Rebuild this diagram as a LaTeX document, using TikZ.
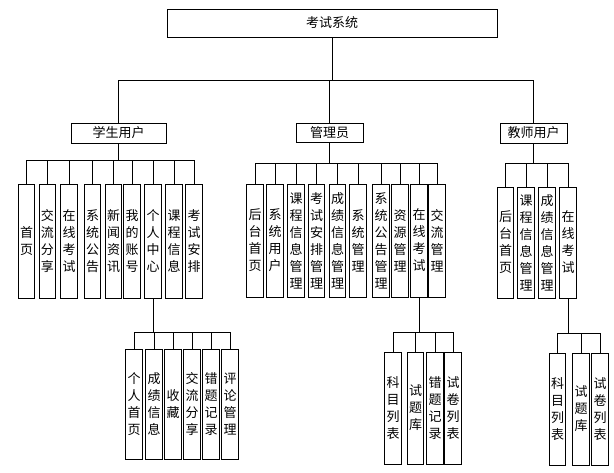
\documentclass[tikz,border=0pt]{standalone}
\usepackage{fontspec}
\setmainfont{Noto Sans CJK SC}
\begin{document}
\begin{tikzpicture}[x=1pt,y=-1pt]
\tikzset{
  box/.style={draw, line width=0.9pt, inner sep=0pt, font=\fontsize{13}{17}\selectfont},
  vb/.style={box, align=center, minimum width=16.5pt},
  ln/.style={line width=0.9pt},
}
\useasboundingbox[fill=white] (0,0) rectangle (614,473);
% top levels
\node[box, minimum width=330pt, minimum height=28pt] (top) at (332,23) {考试系统};
\node[box, minimum width=95pt, minimum height=20pt] (stu) at (118.5,133) {学生用户};
\node[box, minimum width=67pt, minimum height=19pt] (adm) at (329.5,132.5) {管理员};
\node[box, minimum width=67pt, minimum height=20pt] (tea) at (533.5,133) {教师用户};
% student children
\tikzset{sv/.style={vb, minimum height=114pt}}
\node[sv] (s1) at (26.5,241) {首\\页};
\node[sv] (s2) at (47.5,241) {交\\流\\分\\享};
\node[sv] (s3) at (69,241) {在\\线\\考\\试};
\node[sv] (s4) at (92.5,241) {系\\统\\公\\告};
\node[sv] (s5) at (113.5,241) {新\\闻\\资\\讯};
\node[sv] (s6) at (132,241) {我\\的\\账\\号};
\node[sv] (s7) at (153,241) {个\\人\\中\\心};
\node[sv] (s8) at (174,241) {课\\程\\信\\息};
\node[sv] (s9) at (194,241) {考\\试\\安\\排};
% admin children
\tikzset{av/.style={vb, minimum height=113pt}}
\node[av] (a1) at (255,240.5) {后\\台\\首\\页};
\node[av] (a2) at (275,240.5) {系\\统\\用\\户};
\node[av] (a3) at (296,240.5) {课\\程\\信\\息\\管\\理};
\node[av] (a4) at (316.5,240.5) {考\\试\\安\\排\\管\\理};
\node[av] (a5) at (337.5,240.5) {成\\绩\\信\\息\\管\\理};
\node[av] (a6) at (358,240.5) {系\\统\\管\\理};
\node[av] (a7) at (381,240.5) {系\\统\\公\\告\\管\\理};
\node[av] (a8) at (400,240.5) {资\\源\\管\\理};
\node[av] (a9) at (419,240.5) {在\\线\\考\\试};
\node[av] (a10) at (437,240.5) {交\\流\\管\\理};
% teacher children
\tikzset{tv/.style={vb, minimum height=111pt}}
\node[tv] (t1) at (505.5,242.5) {后\\台\\首\\页};
\node[tv] (t2) at (526,242.5) {课\\程\\信\\息\\管\\理};
\node[tv] (t3) at (547,242.5) {成\\绩\\信\\息\\管\\理};
\node[tv] (t4) at (568,242.5) {在\\线\\考\\试};
% student sub
\tikzset{ssv/.style={vb, minimum height=110pt}}
\node[ssv] (ss1) at (134,404) {个\\人\\首\\页};
\node[ssv] (ss2) at (154,404) {成\\绩\\信\\息};
\node[ssv] (ss3) at (173,404) {收\\藏};
\node[ssv] (ss4) at (192,404) {交\\流\\分\\享};
\node[ssv] (ss5) at (211,404) {错\\题\\记\\录};
\node[ssv] (ss6) at (230,404) {评\\论\\管\\理};
% admin sub
\tikzset{asv/.style={vb, minimum height=112pt}}
\node[asv] (as1) at (393,408) {科\\目\\列\\表};
\node[asv] (as2) at (415.5,408) {试\\题\\库};
\node[asv] (as3) at (435,408) {错\\题\\记\\录};
\node[asv] (as4) at (453,408) {试\\卷\\列\\表};
% teacher sub
\node[asv] (ts1) at (557.5,409) {科\\目\\列\\表};
\node[asv] (ts2) at (581,409) {试\\题\\库};
\node[asv] (ts3) at (600,409) {试\\卷\\列\\表};
% bar levels
\coordinate (b0) at (0,80);
\coordinate (bs) at (0,160);
\coordinate (ba) at (0,163);
\coordinate (bt) at (0,163);
\coordinate (bss) at (0,332);
\coordinate (bas) at (0,332);
\coordinate (bts) at (0,333);
% top connectors
\draw[ln] (top.south) -- (top.south |- b0);
\draw[ln] (stu.north |- b0) -- (tea.north |- b0);
\foreach \n in {stu,adm,tea} \draw[ln] (\n.north) -- (\n.north |- b0);
% student
\draw[ln] (stu.south) -- (stu.south |- bs);
\draw[ln] (s1.north |- bs) -- (s9.north |- bs);
\foreach \i in {1,...,9} \draw[ln] (s\i.north) -- (s\i.north |- bs);
% admin
\draw[ln] (adm.south) -- (adm.south |- ba);
\draw[ln] (a1.north |- ba) -- (a10.north |- ba);
\foreach \i in {1,...,10} \draw[ln] (a\i.north) -- (a\i.north |- ba);
% teacher
\draw[ln] (tea.south) -- (tea.south |- bt);
\draw[ln] (t1.north |- bt) -- (t4.north |- bt);
\foreach \i in {1,...,4} \draw[ln] (t\i.north) -- (t\i.north |- bt);
% student sub
\draw[ln] (s7.south) -- (s7.south |- bss);
\draw[ln] (ss1.north |- bss) -- (ss6.north |- bss);
\foreach \i in {1,...,6} \draw[ln] (ss\i.north) -- (ss\i.north |- bss);
% admin sub
\draw[ln] (a9.south) -- (a9.south |- bas);
\draw[ln] (as1.north |- bas) -- (as4.north |- bas);
\foreach \i in {1,...,4} \draw[ln] (as\i.north) -- (as\i.north |- bas);
% teacher sub
\draw[ln] (t4.south) -- (t4.south |- bts);
\draw[ln] (ts1.north |- bts) -- (ts3.north |- bts);
\foreach \i in {1,...,3} \draw[ln] (ts\i.north) -- (ts\i.north |- bts);
\end{tikzpicture}
\end{document}
